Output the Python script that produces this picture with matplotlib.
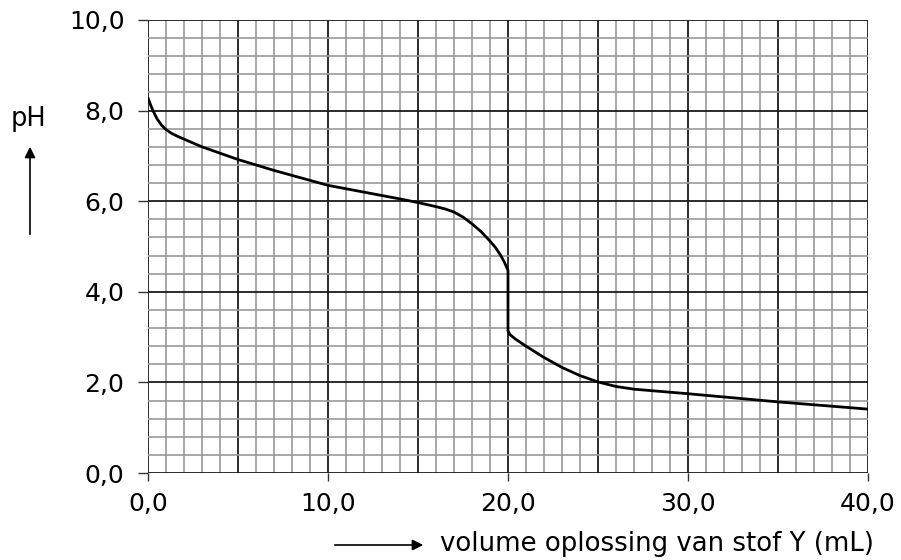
import numpy as np
import matplotlib
matplotlib.use("Agg")
import matplotlib.pyplot as plt
from matplotlib.ticker import FuncFormatter

# titration curve
volume_ml = [0.0, 0.15, 0.3, 0.5, 0.75, 1.0, 1.3, 1.6, 2.0, 3.0, 4.0, 5.0, 7.0,
             10.0, 12.0, 14.0, 15.0, 16.0, 16.5, 17.0, 17.5, 18.0, 18.5, 19.0,
             19.3, 19.6, 19.8, 19.95, 20.0, 20.0, 20.1, 20.4, 21.0, 22.0, 23.0,
             24.0, 25.0, 26.0, 27.0, 30.0, 35.0, 40.0]
ph = [8.28, 8.12, 7.98, 7.82, 7.68, 7.58, 7.5, 7.44, 7.37, 7.2, 7.06, 6.92, 6.68,
      6.35, 6.2, 6.05, 5.97, 5.88, 5.83, 5.76, 5.65, 5.5, 5.33, 5.12,
      4.98, 4.8, 4.65, 4.52, 4.47, 3.14, 3.06, 2.96, 2.8, 2.55, 2.33,
      2.15, 2.01, 1.91, 1.85, 1.75, 1.57, 1.41]

x_ticks = [0, 10, 20, 30, 40]
y_ticks = [0, 2, 4, 6, 8, 10]

plt.rcParams['font.family'] = ['DejaVu Sans']

fig = plt.figure(figsize=(9.01, 5.6), dpi=100)
ax = fig.add_axes([148 / 901, 87 / 560, 720 / 901, 453 / 560])

ax.set_xlim(0, 40)
ax.set_ylim(0, 10)

# millimeter-paper grid
for v in np.arange(0, 40.01, 1):
    major = abs(v % 5) < 1e-6
    ax.axvline(v, color='#1a1a1a' if major else '#9a9a9a',
               lw=1.3 if major else 1.2, zorder=1)
for v in np.arange(0, 10.01, 0.4):
    major = abs((v + 1e-6) % 2) < 1e-3
    ax.axhline(v, color='#1a1a1a' if major else '#9a9a9a',
               lw=1.3 if major else 1.2, zorder=1)

ax.plot(volume_ml, ph, color='black', lw=2.0, zorder=3,
        solid_joinstyle='round', solid_capstyle='round')

for s in ax.spines.values():
    s.set_visible(False)

ax.set_xticks(x_ticks)
ax.set_yticks(y_ticks)
fmt = FuncFormatter(lambda v, p: f"{v:.1f}".replace('.', ','))
ax.xaxis.set_major_formatter(fmt)
ax.yaxis.set_major_formatter(fmt)
ax.tick_params(axis='both', width=1.0, color='#333333', labelsize=18)
ax.tick_params(axis='x', length=5.5, pad=8)
ax.tick_params(axis='y', length=7, pad=10)

# axis labels with arrows
fig.text(11 / 901, 1 - 119 / 560, "pH", fontsize=18.5, ha='left', va='center')
fig.patches.append(matplotlib.patches.FancyArrowPatch(
    (30 / 901, 1 - 237 / 560), (30 / 901, 1 - 144 / 560),
    transform=fig.transFigure, arrowstyle='-|>', mutation_scale=16,
    color='black', lw=1.2))
fig.patches.append(matplotlib.patches.FancyArrowPatch(
    (332 / 901, 1 - 545 / 560), (426 / 901, 1 - 545 / 560),
    transform=fig.transFigure, arrowstyle='-|>', mutation_scale=16,
    color='black', lw=1.2))
fig.text(440 / 901, 1 - 551 / 560, "volume oplossing van stof Y (mL)",
         fontsize=18.7, ha='left', va='baseline')

fig.savefig("out.png", dpi=100)
